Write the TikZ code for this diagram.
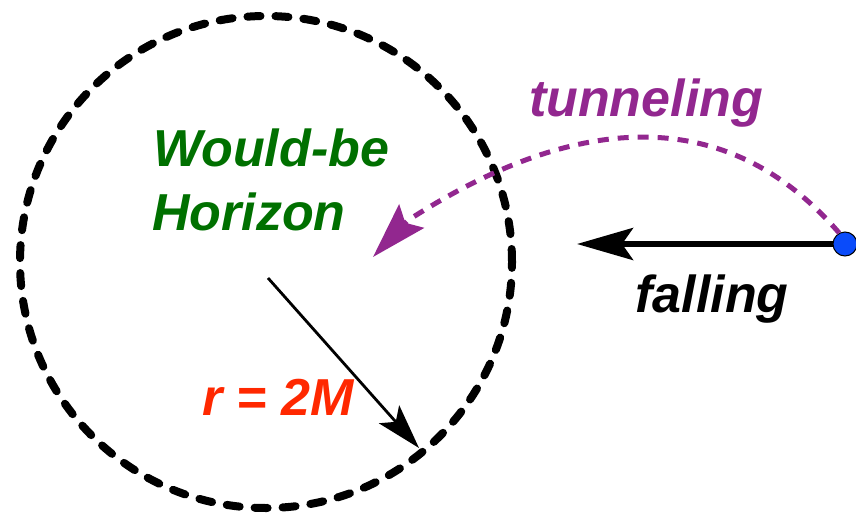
\documentclass[tikz,border=0pt]{standalone}
\usepackage{fontspec}
\setmainfont{Liberation Sans}
\usetikzlibrary{arrows.meta}
\definecolor{tunnelpurple}{RGB}{146,39,143}
\definecolor{horizongreen}{RGB}{0,112,0}
\definecolor{radiusred}{RGB}{255,40,0}
\definecolor{particleblue}{RGB}{10,75,250}
\begin{document}
\begin{tikzpicture}[
    x=1pt,y=-1pt,
    lbl/.style={font=\fontsize{52}{63}\selectfont\bfseries\itshape,inner sep=0pt,anchor=base},
    horizon/.style={circle,draw=black,line width=8pt,line cap=round,dash pattern=on 13pt off 15pt,minimum size=492pt,inner sep=0pt},
    fall/.style={draw=black,line width=6pt,-{Stealth[length=56pt,width=32pt,inset=11pt]}},
    tunnel/.style={draw=tunnelpurple,line width=5pt,dash pattern=on 11pt off 9pt,-{Stealth[length=56pt,width=34pt,inset=9pt]}},
    rad/.style={draw=black,line width=2.8pt,-{Stealth[length=45pt,width=27pt,inset=10pt]}},
    particle/.style={circle,draw=black,fill=particleblue,line width=1pt,minimum size=24pt,inner sep=0pt}
]
    \useasboundingbox (0,0) rectangle (856,513);

    \node[horizon] (bh) at (266,262) {};
    \node[particle] (p) at (845,244) {};

    \coordinate (r0) at (268,278);
    \coordinate (r1) at (419,448);
    \coordinate (fallend) at (577,244);
    \coordinate (tunmid) at (407,221);
    \coordinate (tunend) at (373,257);

    \draw[rad] (r0) -- (r1);
    \draw[fall] (p) -- (fallend);
    \draw[tunnel] (p.118) .. controls (714,88) and (552,127) .. (tunmid) -- (tunend);

    \node[lbl,anchor=base west,text=horizongreen] (wouldbe) at (153,167) {Would-be};
    \node[lbl,anchor=base west,text=horizongreen] (horizonlbl) at (152,230) {Horizon};
    \node[lbl,text=tunnelpurple] (tunnellbl) at (646,117) {tunneling};
    \node[lbl,text=black] (falllbl) at (712,312) {falling};
    \node[lbl,text=radiusred] (radlbl) at (278,415) {r = 2M};
\end{tikzpicture}
\end{document}
